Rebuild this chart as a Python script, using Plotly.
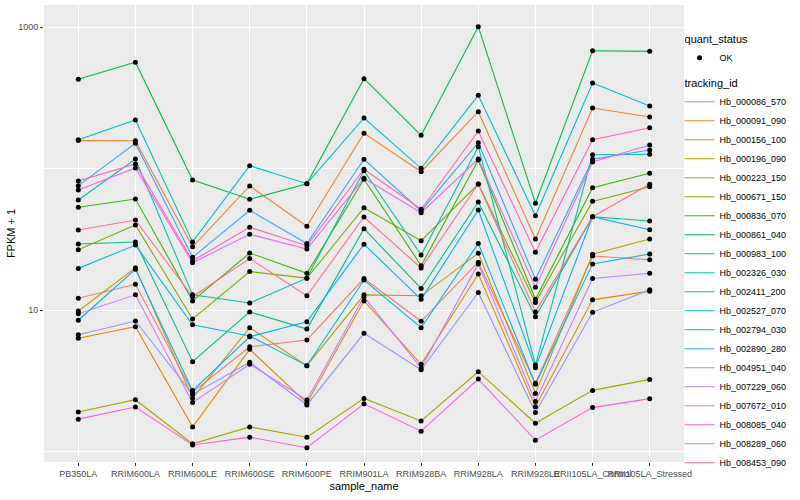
import plotly.graph_objects as go

samples = ["PB350LA", "RRIM600LA", "RRIM600LE", "RRIM600SE", "RRIM600PE", "RRIM901LA",
           "RRIM928BA", "RRIM928LA", "RRIM928LE", "RRII105LA_Control", "RRII105LA_Stressed"]

tracking_ids = ["Hb_000086_570", "Hb_000091_090", "Hb_000156_100", "Hb_000196_090",
                "Hb_000223_150", "Hb_000671_150", "Hb_000836_070", "Hb_000861_040",
                "Hb_000983_100", "Hb_002326_030", "Hb_002411_200", "Hb_002527_070",
                "Hb_002794_030", "Hb_002890_280", "Hb_004951_040", "Hb_007229_060",
                "Hb_007672_010", "Hb_008085_040", "Hb_008289_060", "Hb_008453_090"]

# FPKM + 1 values per gene, one per sample
Hb_000086_570 = [12.1, 15.2, 2.62, 5.50, 6.14, 16.7, 8.32, 21.8, 3.03, 24.1, 22.7]
Hb_000091_090 = [158, 157.6, 28.0, 75.4, 39.1, 177.9, 95.1, 252.9, 31.8, 268.6, 232.0]
Hb_000156_100 = [6.31, 7.62, 1.49, 5.27, 2.19, 11.6, 4.13, 18.0, 2.07, 11.8, 13.6]
Hb_000196_090 = [9.84, 19.9, 2.38, 7.49, 4.04, 12.8, 12.6, 25.2, 2.57, 24.8, 31.8]
Hb_000223_150 = [1.90, 2.32, 1.13, 1.49, 1.26, 2.37, 1.64, 3.66, 1.58, 2.70, 3.23]
Hb_000671_150 = [26.7, 39.9, 8.64, 18.7, 16.8, 52.9, 30.9, 77.9, 11.3, 58.7, 74.5]
Hb_000836_070 = [53.3, 61.0, 11.6, 25.3, 18.2, 84.1, 20.6, 115.2, 11.9, 73.3, 92.7]
Hb_000861_040 = [429, 566, 83.1, 60.7, 78.3, 433, 172.2, 1010, 56.9, 683, 676]
Hb_000983_100 = [29.3, 30.3, 4.31, 9.7, 7.34, 37.6, 14.2, 58.1, 8.97, 45.7, 42.6]
Hb_002326_030 = [60.0, 117.0, 12.8, 11.2, 16.8, 96.7, 24.5, 143.0, 4.08, 125.5, 126.3]
Hb_002411_200 = [160.2, 220.9, 30.3, 104.9, 78.3, 228.2, 100.6, 330.3, 46.5, 403.5, 277.5]
Hb_002527_070 = [19.7, 28.8, 7.87, 6.55, 4.04, 16.3, 7.49, 29.6, 2.98, 21.2, 24.9]
Hb_002794_030 = [8.46, 19.4, 2.69, 6.47, 8.26, 29.2, 11.9, 51.0, 3.91, 45.7, 37.0]
Hb_002890_280 = [75.8, 151.1, 23.6, 50.7, 29.5, 116.5, 50.2, 152.6, 16.5, 116.5, 135.5]
Hb_004951_040 = [6.69, 8.36, 2.53, 4.27, 2.13, 6.84, 3.78, 13.3, 1.88, 9.63, 13.9]
Hb_007229_060 = [9.41, 12.8, 2.22, 4.13, 2.31, 12.4, 3.89, 21.2, 2.25, 16.7, 18.2]
Hb_007672_010 = [70.6, 101.1, 21.6, 34.3, 27.0, 85.4, 48.8, 117.0, 14.5, 111.4, 147.0]
Hb_008085_040 = [1.69, 2.06, 1.11, 1.26, 1.06, 2.17, 1.39, 3.25, 1.20, 2.04, 2.36]
Hb_008289_060 = [81.8, 107.9, 22.3, 38.5, 28.5, 99.0, 51.6, 184.7, 25.6, 160.2, 194.9]
Hb_008453_090 = [36.8, 43.3, 12.4, 23.1, 12.6, 45.5, 19.8, 77.9, 9.7, 45.7, 77.5]

series = [Hb_000086_570, Hb_000091_090, Hb_000156_100, Hb_000196_090, Hb_000223_150,
          Hb_000671_150, Hb_000836_070, Hb_000861_040, Hb_000983_100, Hb_002326_030,
          Hb_002411_200, Hb_002527_070, Hb_002794_030, Hb_002890_280, Hb_004951_040,
          Hb_007229_060, Hb_007672_010, Hb_008085_040, Hb_008289_060, Hb_008453_090]

colors = ["#F8766D", "#EA8331", "#D89000", "#C09B00", "#A3A500", "#7CAE00", "#39B600",
          "#00BB4E", "#00BF7D", "#00C1A3", "#00BFC4", "#00BAE0", "#00B0F6", "#35A2FF",
          "#9590FF", "#C77CFF", "#E76BF3", "#FA62DB", "#FF62BC", "#FF6C91"]

FONT = "Liberation Sans, Arial, sans-serif"

fig = go.Figure()

# legend entry for quant_status
fig.add_trace(go.Scatter(
    x=[None], y=[None], mode="markers", name="OK",
    marker=dict(color="black", size=5),
    legendgroup="quant", legendgrouptitle=dict(text="quant_status", font=dict(size=11, color="black")),
    showlegend=True))

for i, (tid, vals) in enumerate(zip(tracking_ids, series)):
    fig.add_trace(go.Scatter(
        x=samples, y=vals, mode="lines", name=tid,
        line=dict(color=colors[i], width=1.1),
        legendgroup="tracking",
        legendgrouptitle=dict(text="tracking_id", font=dict(size=11, color="black")) if i == 0 else None,
        showlegend=True))

all_x = []
all_y = []
for vals in series:
    all_x += samples
    all_y += vals
fig.add_trace(go.Scatter(x=all_x, y=all_y, mode="markers",
                         marker=dict(color="black", size=5), showlegend=False, hoverinfo="skip"))

fig.update_layout(
    width=800, height=500,
    paper_bgcolor="white", plot_bgcolor="#EBEBEB",
    margin=dict(l=44, r=116, t=5, b=38, autoexpand=False),
    font=dict(family=FONT, color="black"),
    legend=dict(x=0.993, y=0.958, xanchor="left", yanchor="top",
                font=dict(size=9, color="black"), tracegroupgap=6,
                itemwidth=30, bgcolor="rgba(0,0,0,0)", traceorder="grouped"),
    xaxis=dict(type="category", range=[-0.6, 10.6], showgrid=True, gridcolor="white",
               gridwidth=1.1, zeroline=False, ticks="outside", ticklen=3, tickcolor="#333333",
               tickangle=0, automargin=False, tickfont=dict(size=9, color="#4D4D4D", family=FONT),
               title=dict(text="sample_name", font=dict(size=11, color="black"), standoff=4)),
    yaxis=dict(type="log", range=[-0.0753, 3.1578], tickmode="array", tickvals=[10, 1000],
               ticktext=["10", "1000"], showgrid=True, gridcolor="white", gridwidth=1.1,
               zeroline=False, ticks="outside", ticklen=3, tickcolor="#333333", automargin=False,
               tickfont=dict(size=9, color="#4D4D4D", family=FONT),
               minor=dict(tickmode="array", tickvals=[1, 100], showgrid=True,
                          gridcolor="white", gridwidth=0.55, ticks=""),
               title=dict(text="FPKM + 1", font=dict(size=11, color="black"), standoff=0)),
)

fig.write_html("out.html", config={"displayModeBar": False},
               post_script="document.body.style.margin='0';document.body.style.overflow='hidden';")
